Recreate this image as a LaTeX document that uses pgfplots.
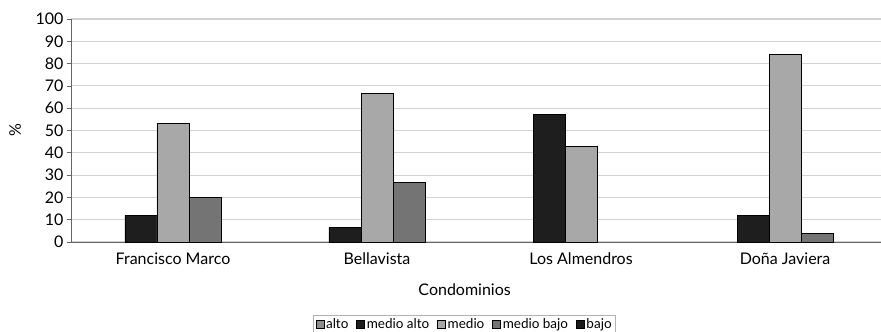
\documentclass[border=0pt]{standalone}
\usepackage{fontspec}
\setmainfont{Lato}
\usepackage{pgfplots}
\pgfplotsset{compat=1.18}
\definecolor{cMA}{HTML}{1E1E1E}
\definecolor{cM}{HTML}{A8A8A8}
\definecolor{cMB}{HTML}{747474}
\definecolor{cA}{HTML}{8C8C8C}
\definecolor{cB}{HTML}{1A1A1A}
\definecolor{gridc}{HTML}{D2D2D2}
\begin{document}
\begin{tikzpicture}
\begin{axis}[
  scale only axis,
  width=810pt, height=223pt,
  xmin=-0.5, xmax=3.47,
  ymin=0, ymax=100,
  ytick={0,10,...,100},
  xtick={0,1,2,3},
  xticklabels={Francisco Marco, Bellavista, Los Almendros, Do\~na Javiera},
  major x tick style={draw=none},
  extra x ticks={0.5,1.5,2.5},
  extra x tick labels={},
  extra x tick style={major tick length=4pt, tick style={draw=gray!70, line width=0.6pt}, tick align=outside, grid=none},
  axis x line*=bottom, axis y line*=left,
  axis line style={draw=gray!80!black, line width=0.8pt},
  y tick style={draw=gray!80!black, line width=0.6pt},
  tick align=outside,
  major tick length=4pt,
  ymajorgrids, grid style={draw=gridc, line width=1.1pt},
  tick label style={font=\fontsize{16}{17}\selectfont},
  /pgf/number format/assume math mode=true,
  xticklabel style={yshift=-13pt, anchor=center},
  xlabel={Condominios},
  xlabel style={font=\fontsize{16}{17}\selectfont, at={(axis description cs:0.486,-0.215)}, anchor=center},
  ylabel={\%},
  ylabel style={font=\fontsize{16}{17}\selectfont, at={(axis description cs:-0.069,0.5)}, anchor=center},
  ybar=0pt,
  bar width=0.157,
  legend columns=5,
  legend style={at={(0.486,-0.368)}, anchor=center, draw=gray!60, line width=0.6pt,
    font=\fontsize{13.5}{14}\selectfont, inner xsep=2pt, inner ysep=1pt,
    /tikz/every even column/.append style={column sep=6pt}},
  legend image code/.code={\draw[#1, draw=black, line width=0.4pt] (0pt,-4pt) rectangle (8pt,4pt);},
]
\addlegendimage{fill=cA}
\addlegendentry{alto}
\addplot[fill=cMA, draw=black, line width=0.6pt, bar shift=-0.157] coordinates {(0,12) (1,6.7) (2,57.1) (3,12)};
\addlegendentry{medio alto}
\addplot[fill=cM, draw=black, line width=0.6pt, bar shift=0] coordinates {(0,53.3) (1,66.7) (2,42.9) (3,84)};
\addlegendentry{medio}
\addplot[fill=cMB, draw=black, line width=0.6pt, bar shift=0.157] coordinates {(0,20) (1,26.7) (3,4)};
\addlegendentry{medio bajo}
\addlegendimage{fill=cB}
\addlegendentry{bajo}
\end{axis}
\pgfresetboundingbox
\path (-71pt,-90pt) rectangle (810pt,242pt);
\end{tikzpicture}
\end{document}
